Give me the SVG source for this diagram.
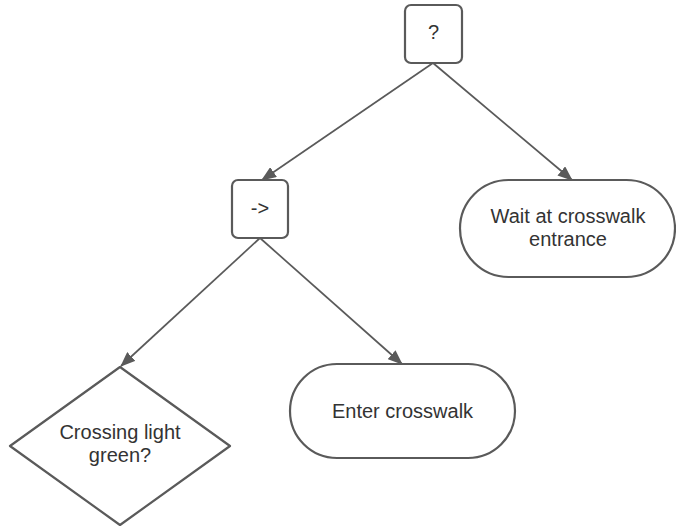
<svg xmlns="http://www.w3.org/2000/svg" width="676" height="526" viewBox="0 0 676 526">
<style>
.shape{fill:#ffffff;stroke:#5a5a5a;stroke-width:2.2}
.edge{fill:none;stroke:#5a5a5a;stroke-width:1.7}
text{font-family:"Liberation Sans",Arial,sans-serif;font-size:20px;fill:#333333;text-anchor:middle}
</style>
<defs>
<marker id="arr" markerWidth="15" markerHeight="12" refX="14" refY="6" orient="auto" markerUnits="userSpaceOnUse">
<path d="M0,0 L15,6 L0,12 Z" fill="#5a5a5a"/>
</marker>
</defs>
<rect width="676" height="526" fill="#ffffff"/>
<g id="connectors">
<line class="edge" x1="433" y1="63" x2="262" y2="180" marker-end="url(#arr)"/>
<line class="edge" x1="433" y1="63" x2="572" y2="180" marker-end="url(#arr)"/>
<line class="edge" x1="260" y1="238" x2="121" y2="366" marker-end="url(#arr)"/>
<line class="edge" x1="260" y1="238" x2="402" y2="364" marker-end="url(#arr)"/>
</g>
<g id="n-selector">
<rect class="shape" x="405" y="5" width="57" height="58" rx="6"/>
<text x="433.5" y="39">?</text>
</g>
<g id="n-sequence">
<rect class="shape" x="232" y="180" width="56" height="58" rx="6"/>
<text x="260" y="215">-&gt;</text>
</g>
<g id="n-wait">
<rect class="shape" x="460" y="180" width="215" height="97" rx="48.5"/>
<text x="568" y="223">Wait at crosswalk</text>
<text x="568" y="246">entrance</text>
</g>
<g id="n-condition">
<path class="shape" d="M120,367 L230,446 L120,525 L10,446 Z" stroke-linejoin="round"/>
<text x="120" y="439">Crossing light</text>
<text x="120" y="462">green?</text>
</g>
<g id="n-enter">
<rect class="shape" x="290" y="364" width="225" height="94" rx="47"/>
<text x="402.5" y="418">Enter crosswalk</text>
</g>
</svg>
